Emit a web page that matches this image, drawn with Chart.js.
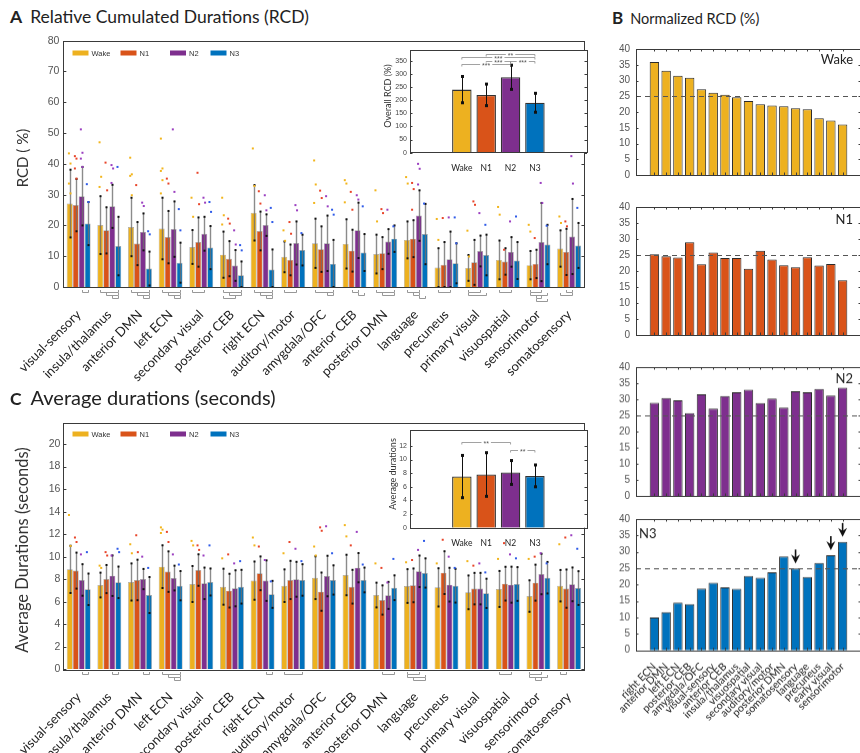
<!DOCTYPE html>
<html>
<head>
<meta charset="utf-8">
<title>Network state durations across sleep stages</title>
<script src="https://cdn.jsdelivr.net/npm/chart.js@4.4.1/dist/chart.umd.min.js"></script>
<style>
html,body{margin:0;padding:0;background:#fff;}
body{position:relative;width:860px;height:753px;overflow:hidden;font-family:Lato,"Liberation Sans",sans-serif;color:#222;}
canvas{position:absolute;}
.ttl{position:absolute;white-space:nowrap;color:#222;}
.ttl b{font-weight:700;}
.ylab{position:absolute;white-space:nowrap;transform:translate(-50%,-50%) rotate(-90deg);color:#333;}
</style>
</head>
<body>
<canvas id="cA"></canvas>
<canvas id="cC"></canvas>
<canvas id="cAin"></canvas>
<canvas id="cCin"></canvas>
<canvas id="cB0"></canvas>
<canvas id="cB1"></canvas>
<canvas id="cB2"></canvas>
<canvas id="cB3"></canvas>

<div class="ttl" style="left:10px;top:6px;font-size:17.5px;line-height:22px"><b style="margin-right:8px">A</b>Relative Cumulated Durations (RCD)</div>
<div class="ttl" style="left:612px;top:7px;font-size:14.5px;line-height:22px"><b style="font-size:17px;margin-right:7px">B</b>Normalized RCD (%)</div>
<div class="ttl" style="left:10px;top:385px;font-size:20px;line-height:24px"><b style="font-size:17.5px;margin-right:9px">C</b>Average durations (seconds)</div>
<div class="ylab" style="left:22px;top:158px;font-size:15px">RCD ( %)</div>
<div class="ylab" style="left:22px;top:550px;font-size:16.5px">Average Durations (seconds)</div>
<div class="ylab" style="left:387px;top:96px;font-size:9px">Overall RCD (%)</div>
<div class="ylab" style="left:392px;top:474px;font-size:9px">Average durations</div>

<script>
// ---------------- data ----------------
const regions = ['visual-sensory','insula/thalamus','anterior DMN','left ECN','secondary visual','posterior CEB','right ECN','auditory/motor','amygdala/OFC','anterior CEB','posterior DMN','language','precuneus','primary visual','visuospatial','sensorimotor','somatosensory'];
const states = ['Wake','N1','N2','N3'];
const stateColors = ['#EDB120','#D95319','#7E2F8E','#0072BD'];
const dotColors = ['#F2B51C','#E8452A','#9B3FC0','#2F5BE8'];

// relative cumulated durations (%), mean per region
const rcdWake = [27.1,20.1,19.5,19.0,13.0,10.5,24.1,9.8,14.2,14.0,10.7,15.3,6.3,6.2,8.8,7.1,12.5];
const rcdN1   = [26.6,18.4,14.1,16.2,14.6,9.2,18.2,8.8,12.3,11.8,11.0,15.7,7.2,8.0,8.3,7.5,11.4];
const rcdN2   = [29.5,26.2,17.9,18.8,17.3,7.0,20.1,14.3,14.2,18.4,14.8,23.2,9.0,11.7,11.4,14.6,16.4];
const rcdN3   = [20.6,13.3,6.0,7.9,12.8,3.8,5.7,12.0,7.5,11.2,15.7,17.2,7.7,10.4,8.6,13.8,13.5];
// standard deviations
const rcdErrWake = [11,9.4,9.5,10,5.5,7.5,9,5,8,8,6.3,6,6.3,4.2,6.3,4.6,5.9];
const rcdErrN1   = [8.5,7.5,7,8.5,8,5.7,6.3,5,7.4,6.8,5.2,6,7.4,7.3,4.3,4.6,7.5];
const rcdErrN2   = [9.5,7,6,9,5.5,5,3.5,7,9,9,4,8.2,9,5,4.8,12.7,12.2];
const rcdErrN3   = [7,9.5,5.5,6.5,7,4.5,6.5,5,7.8,6,4.3,9.8,6.5,6.6,6,6.4,7.3];
// individual subjects lying above the bars
const rcdDotsWake = [[43.4,40.1,33.6,30.4],[47,35.8,32.5],[42,36.6,36.1,29.8],[48.2,38.5,37.7,34.7,30.4],[29,22.8],[29,23.3,20.3],[45,32.8],[18.4,15],[41.1,33.3,27.3],[34.7,33.6,27.5],[31.4,21.3],[35.7,33.6],[22.1,15.3],[18.3,9.9],[26,23.5],[20.2,18],[22.9,20.8]];
const rcdDotsN1   = [[42.5,41.7,38.5,35.2],[40.4,31.4],[33.1],[35.2,33.6],[37.1,26.9],[22.2,20.6],[31.1,27.1],[21.1,17.3],[31.3,28.9],[30.9,25.1],[25.3,24],[33.8,31.8,25.1],[22.4],[27.8,26.7],[12.1],[15.9],[21.3,19.7]];
const rcdDotsN2   = [[51.2,43.6,41.7,39],[39.6,38.5,33.8],[27.4,26.3],[51.2,30.9],[29,27.4],[18.4,13.8],[29.8,24.9],[26.6,24.9],[29.5,26.2],[29.8,28.4],[25.1],[40,38.4,33.3],[22.6],[24],[21.3],[33.8,27.3],[42.5,33.6]];
const rcdDotsN3   = [[33.4,27.6],[39],[18.1,17.1],[25.3,18.4],[27.6,24.4],[13.6,11.9],[25.7,21.1],[17.5],[25.1,23.5],[26.2],[19.7],[27.1],[22.6,14.2],[20.2],[22.9],[19.9],[25.7]];
// pairwise stage differences per region (stage indices)
const rcdPairs = [[[2,3]],[[0,3],[1,3],[2,3]],[[0,3],[1,3],[2,3]],[[0,3],[1,3],[2,3]],[[0,2]],[[0,3],[1,3],[0,2]],[[0,3],[1,3],[2,3]],[[0,2]],[[0,3],[2,3]],[[1,2],[2,3]],[[0,3],[1,3]],[[0,2],[1,2],[2,3]],[[0,2]],[[0,2],[0,3]],[[0,2]],[[0,2],[0,3],[1,2],[1,3]],[[1,2],[0,2]]];

// overall RCD (%) summed over regions
const overallRcd    = [240,220,287,190];
const overallRcdErr = [50,41,46,36];
const rcdSigFrom  = [1,0,1,2,0];
const rcdSigTo    = [3,3,2,3,2];
const rcdSigLevel = ['**','***','***','***','***'];
const rcdSigAt    = [377,364,350,350,338];

// normalized RCD (%), regions ordered by N3 share
const normRegions = ['right ECN','anterior DMN','left ECN','posterior CEB','amygdala/OFC','visual-sensory','anterior CEB','insula/thalamus','visuospatial','secondary visual','auditory/motor','posterior DMN','somatosensory','language','precuneus','early visual','sensorimotor'];
const normWake = [35.9,33.1,31.5,30.9,27.2,26.1,25.5,24.7,23.5,22.5,22.1,21.8,21.2,20.9,18.0,17.3,16.0];
const normN1   = [25.2,24.6,24.2,29.0,22.1,25.8,24.1,24.1,20.7,26.3,23.6,21.8,21.2,24.3,21.7,22.2,17.1];
const normN2   = [28.9,30.4,29.7,25.7,31.6,27.1,31.0,32.2,33.0,28.8,30.2,27.4,32.5,32.2,33.2,31.2,33.6];
const normN3   = [10.0,11.6,14.5,14.1,18.8,20.6,19.2,18.7,22.6,22.1,23.8,28.6,24.9,22.3,26.6,29.0,33.0];
const chanceLevel = 25;
const n3Marked = ['somatosensory','early visual','sensorimotor'];

// average durations (s)
const durWake = [8.87,7.48,7.75,9.11,7.57,7.33,7.87,7.42,8.13,8.37,6.59,7.39,7.27,6.83,7.13,6.50,7.42];
const durN1   = [8.76,8.01,7.93,8.67,8.81,6.98,8.52,7.93,6.89,7.33,6.15,7.45,8.58,7.16,7.60,7.69,7.16];
const durN2   = [7.93,8.31,8.01,8.10,7.63,7.19,7.87,7.99,8.28,9.02,6.56,8.70,7.51,7.16,7.51,8.46,7.54];
const durN3   = [7.10,7.72,6.59,7.42,7.75,7.33,6.65,7.93,7.93,7.93,7.24,8.55,7.42,6.74,7.57,8.13,7.21];
const durErrWake = [2.1,1.1,1.65,1.9,1.6,1.6,1.7,1.45,1.9,1.8,1.1,1.5,1.7,1.5,1.6,1.4,1.4];
const durErrN1   = [1.6,1.25,1.8,1.8,1.4,1.5,1.5,1.7,1.7,1.5,1.3,1.5,1.9,1.4,1.5,1.6,1.7];
const durErrN2   = [1.4,1.8,0.9,1.1,1.4,1.6,1.8,1.55,1.8,1.3,1.2,1.4,1.5,1.4,1.6,1.8,1.5];
const durErrN3   = [1.4,1.4,1.6,1.3,1.2,1.5,1.2,1.4,1.3,1.1,1.1,1.3,1.5,1.3,1.5,1.4,1.5];
const durDotsWake = [[13.7,10.95],[9.2,9.0],[11.1,10.3],[12.6,12.4,12.1],[11.4,11.0],[9.85],[11.7,11.0],[10.3],[10.9,10.1],[12.8,11.8],[9.4],[9.5],[9.4],[9.6],[9.8],[9.8],[11.1]];
const durDotsN1   = [[11.7,11.3],[10.4,10.1],[11.9,10.4],[12.2,11.3],[11.0,10.6],[10.2],[10.9],[11.3],[12.6,12.3],[11.0],[9.0],[9.7],[11.5],[9.2],[11.2],[10.0],[11.7]];
const durDotsN2   = [[10.2],[10.1],[10.0],[10.2],[10.1],[9.4],[9.7],[10.7],[12.7],[12.2],[7.7],[10.6],[10.0],[9.4],[10.2],[10.3],[11.9]];
const durDotsN3   = [[10.4],[10.7,10.4],[9.0],[9.3],[11.0],[9.6],[7.8],[9.6],[10.3],[9.3],[9.8],[11.4],[9.0],[8.6],[9.85],[9.4],[10.7]];
const durPairs = [[[2,3]],[[2,3]],[[2,3]],[[0,3],[1,3],[2,3]],[],[],[[2,3]],[[0,3]],[],[],[[1,3]],[[0,2],[0,3],[1,3]],[],[],[[0,2]],[[0,2],[0,3],[1,2]],[[0,1]]];

const overallDur    = [7.5,7.8,8.1,7.6];
const overallDurErr = [3.1,3.2,1.75,1.6];
const durSigFrom  = [0,2];
const durSigTo    = [2,3];
const durSigLevel = ['**','**'];
const durSigAt    = [12.6,11.4];

// ---------------- helpers ----------------
Chart.defaults.font.family = 'Lato, "Liberation Sans", sans-serif';
Chart.defaults.animation = false;
Chart.defaults.plugins.legend.display = false;
Chart.defaults.plugins.tooltip.enabled = false;
const NUM_FONT = '"Liberation Sans", Arial, sans-serif';
const NO_GRID = {display: false, drawTicks: false};

// position a canvas and derive padding / axis sizes for a fixed plot box
function place(id, cv, plot) {
  const el = document.getElementById(id);
  el.style.left = cv[0] + 'px'; el.style.top = cv[1] + 'px';
  el.width = cv[2]; el.height = cv[3];
  el.style.width = cv[2] + 'px'; el.style.height = cv[3] + 'px';
  return {
    el,
    padding: {left: 0, top: plot[1] - cv[1], right: cv[0] + cv[2] - plot[2], bottom: 0},
    yWidth: plot[0] - cv[0],
    xHeight: cv[1] + cv[3] - plot[3]
  };
}

// box around the axes with inward ticks
function framePlugin(o) {
  return {id: 'frame', afterDraw(chart) {
    const {ctx, chartArea: a} = chart;
    const L = a.left, R = a.right;
    const len = o.tick || 3;
    ctx.save();
    ctx.strokeStyle = o.color || '#3a3a3a';
    ctx.lineWidth = o.lw || 1;
    ctx.strokeRect(Math.round(L) + 0.5, Math.round(a.top) + 0.5, Math.round(R - L), Math.round(a.bottom - a.top));
    ctx.beginPath();
    const ys = chart.scales.y;
    ys.ticks.forEach(t => {
      const p = Math.round(ys.getPixelForValue(t.value)) + 0.5;
      ctx.moveTo(L, p); ctx.lineTo(L + len, p);
      ctx.moveTo(R, p); ctx.lineTo(R - len, p);
    });
    (o.xTicks || []).forEach(v => {
      const p = Math.round(chart.scales.x.getPixelForValue(v)) + 0.5;
      ctx.moveTo(p, a.top); ctx.lineTo(p, a.top + len);
      ctx.moveTo(p, a.bottom); ctx.lineTo(p, a.bottom - len);
    });
    ctx.stroke();
    ctx.restore();
  }};
}

// small grey brackets under the axis linking differing stages
function pairBrackets(pairs) {
  return {id: 'pairBrackets', afterDraw(chart) {
    const ctx = chart.ctx, base = chart.chartArea.bottom;
    const metas = states.map((_, k) => chart.getDatasetMeta(k));
    ctx.save();
    ctx.strokeStyle = '#8c8c8c'; ctx.lineWidth = 0.9;
    pairs.forEach((list, i) => {
      list.forEach(([a, b], j) => {
        const x1 = Math.round(metas[a].data[i].x) + 0.5, x2 = Math.round(metas[b].data[i].x) + 0.5;
        const y = Math.round(base + 5 + j * 3) + 0.5;
        ctx.beginPath();
        ctx.moveTo(x1, y - 2.5); ctx.lineTo(x1, y); ctx.lineTo(x2, y); ctx.lineTo(x2, y - 2.5);
        ctx.stroke();
      });
    });
    ctx.restore();
  }};
}

// subject values drawn as small squares over each bar
function dotsPlugin(dots) {
  return {id: 'dots', afterDatasetsDraw(chart) {
    const ctx = chart.ctx, ys = chart.scales.y;
    ctx.save();
    chart.data.datasets.forEach((ds, di) => {
      const meta = chart.getDatasetMeta(di);
      ctx.fillStyle = dotColors[di];
      meta.data.forEach((bar, i) => {
        dots[di][i].forEach((v, j) => {
          const x = bar.x + (j % 2 ? 1 : -1) * 0.8;
          ctx.fillRect(x - 1, ys.getPixelForValue(v) - 1, 2, 2);
        });
      });
    });
    ctx.restore();
  }};
}

// mean +/- SD whiskers
function errorBarPlugin(errs, style) {
  return {id: 'errorBars', afterDatasetsDraw(chart) {
    const ctx = chart.ctx, ys = chart.scales.y;
    ctx.save();
    chart.data.datasets.forEach((ds, di) => {
      const meta = chart.getDatasetMeta(di);
      meta.data.forEach((bar, i) => {
        const raw = ds.data[i];
        const v = typeof raw === 'object' ? raw.y : raw;
        const e = errs[di][i];
        const x = Math.round(bar.x) + 0.5;
        const yt = ys.getPixelForValue(v + e), yb = ys.getPixelForValue(Math.max(0, v - e));
        if (style === 'inset') {
          ctx.strokeStyle = '#111'; ctx.lineWidth = 1;
          ctx.beginPath(); ctx.moveTo(x, yt); ctx.lineTo(x, yb); ctx.stroke();
          ctx.fillStyle = '#111';
          ctx.fillRect(x - 1.5, yt - 1.5, 3, 3); ctx.fillRect(x - 1.5, yb - 1.5, 3, 3);
        } else {
          ctx.strokeStyle = 'rgba(110,110,110,0.8)'; ctx.lineWidth = 1.4;
          ctx.beginPath(); ctx.moveTo(x, yt); ctx.lineTo(x, yb); ctx.stroke();
          ctx.fillStyle = '#111';
          ctx.fillRect(x - 1, yt - 1, 2, 2); ctx.fillRect(x - 1, yb - 1, 2, 2);
        }
      });
    });
    ctx.restore();
  }};
}

// in-plot legend of the four stages
function stateLegend(dy) {
  const xs = [72.5, 120.5, 170, 210.5];
  return {id: 'stateLegend', afterDraw(chart) {
    const ctx = chart.ctx, y = chart.chartArea.top + dy;
    ctx.save();
    ctx.font = '7.5px ' + NUM_FONT;
    ctx.textBaseline = 'middle';
    states.forEach((s, k) => {
      ctx.fillStyle = stateColors[k];
      ctx.fillRect(xs[k], y - 2.5, 16, 5);
      ctx.fillStyle = '#333';
      ctx.fillText(s, xs[k] + 19, y + 0.5);
    });
    ctx.restore();
  }};
}

// white plotting area for the insets
const whitePlot = {id: 'whitePlot', beforeDraw(chart) {
  const {ctx, chartArea: a} = chart;
  ctx.save(); ctx.fillStyle = '#fff';
  ctx.fillRect(a.left, a.top, a.right - a.left, a.bottom - a.top);
  ctx.restore();
}};

// significance brackets for the insets
function sigPlugin(from, to, level, at) {
  return {id: 'sig', afterDatasetsDraw(chart) {
    const ctx = chart.ctx, xs = chart.scales.x, ys = chart.scales.y;
    ctx.save();
    ctx.font = '7px ' + NUM_FONT;
    ctx.textAlign = 'center'; ctx.textBaseline = 'middle';
    from.forEach((f, i) => {
      const x1 = xs.getPixelForValue(f + 1), x2 = xs.getPixelForValue(to[i] + 1);
      const y = Math.round(ys.getPixelForValue(at[i])) + 0.5;
      ctx.strokeStyle = '#8a8a8a'; ctx.lineWidth = 0.8;
      ctx.beginPath();
      ctx.moveTo(x1, y + 2); ctx.lineTo(x1, y); ctx.lineTo(x2, y); ctx.lineTo(x2, y + 2);
      ctx.stroke();
      const mx = (x1 + x2) / 2, w = ctx.measureText(level[i]).width + 4;
      ctx.fillStyle = '#fff'; ctx.fillRect(mx - w / 2, y - 2, w, 4);
      ctx.fillStyle = '#555'; ctx.fillText(level[i], mx, y + 1.5);
    });
    ctx.restore();
  }};
}

// dashed chance level line
function refLine(value) {
  return {id: 'refLine', afterDatasetsDraw(chart) {
    const {ctx, chartArea: a} = chart;
    const y = Math.round(chart.scales.y.getPixelForValue(value)) + 0.5;
    ctx.save();
    ctx.strokeStyle = '#555'; ctx.lineWidth = 1; ctx.setLineDash([5, 4]);
    ctx.beginPath(); ctx.moveTo(a.left, y); ctx.lineTo(a.right, y); ctx.stroke();
    ctx.restore();
  }};
}

// stage name inside each panel-B axis (canvas x coordinates)
function stageTag(text, side, dy) {
  return {id: 'stageTag', afterDraw(chart) {
    const {ctx, chartArea: a} = chart;
    ctx.save();
    ctx.font = '13px Lato, sans-serif'; ctx.fillStyle = '#222';
    ctx.textBaseline = 'middle';
    if (side === 'right') { ctx.textAlign = 'right'; ctx.fillText(text, 253, a.top + dy); }
    else { ctx.textAlign = 'left'; ctx.fillText(text, 39, a.top + dy); }
    ctx.restore();
  }};
}

// downward arrows over highlighted regions
function arrowPlugin(names) {
  return {id: 'arrows', afterDatasetsDraw(chart) {
    const ctx = chart.ctx, ys = chart.scales.y, meta = chart.getDatasetMeta(0);
    const ds = chart.data.datasets[0];
    ctx.save(); ctx.fillStyle = '#111'; ctx.strokeStyle = '#111'; ctx.lineWidth = 1.6;
    names.forEach(n => {
      const i = normRegions.indexOf(n);
      const x = meta.data[i].x;
      const tip = ys.getPixelForValue(ds.data[i].y) - 5;
      ctx.beginPath(); ctx.moveTo(x, tip - 14); ctx.lineTo(x, tip - 5); ctx.stroke();
      ctx.beginPath();
      ctx.moveTo(x, tip); ctx.lineTo(x - 4.5, tip - 9); ctx.lineTo(x, tip - 6); ctx.lineTo(x + 4.5, tip - 9);
      ctx.closePath(); ctx.fill();
    });
    ctx.restore();
  }};
}

// ---------------- panel A: RCD per region ----------------
const rcdSeries = [rcdWake, rcdN1, rcdN2, rcdN3];
const rcdErrs = [rcdErrWake, rcdErrN1, rcdErrN2, rcdErrN3];
const rcdDots = [rcdDotsWake, rcdDotsN1, rcdDotsN2, rcdDotsN3];
const LA = place('cA', [0, 28, 600, 372], [54, 40.7, 597, 287]);
new Chart(LA.el, {
  type: 'bar',
  data: {labels: regions, datasets: states.map((s, k) => ({
    label: s, data: rcdSeries[k], backgroundColor: stateColors[k],
    borderColor: 'rgba(0,0,0,0.35)', borderWidth: 0.7,
    categoryPercentage: 0.78, barPercentage: 1.0
  }))},
  options: {
    responsive: false, animation: false,
    layout: {padding: LA.padding},
    scales: {
      x: {grid: NO_GRID, border: {display: false},
          ticks: {autoSkip: false, minRotation: 45, maxRotation: 45, padding: 20, color: '#222', font: {size: 13}},
          afterFit: s => { s.height = LA.xHeight; }},
      y: {min: 0, max: 80, grid: NO_GRID, border: {display: false},
          ticks: {stepSize: 10, color: '#555', padding: 4, font: {size: 10.5, family: NUM_FONT}},
          afterFit: s => { s.width = LA.yWidth; }}
    }
  },
  plugins: [errorBarPlugin(rcdErrs, 'main'), dotsPlugin(rcdDots), framePlugin({tick: 3}), stateLegend(12.3), pairBrackets(rcdPairs)]
});

// inset: overall RCD
const LAi = place('cAin', [372, 43, 218, 132], [410, 45, 587, 152.7]);
new Chart(LAi.el, {
  type: 'bar',
  data: {datasets: [{data: overallRcd.map((v, i) => ({x: i + 1, y: v})), backgroundColor: stateColors,
    borderColor: '#333', borderWidth: 1.3, barPercentage: 0.8, categoryPercentage: 1}]},
  options: {
    responsive: false, animation: false, layout: {padding: LAi.padding},
    scales: {
      x: {type: 'linear', min: -0.22, max: 5.23, grid: NO_GRID, border: {display: false},
          afterBuildTicks: s => { s.ticks = states.map((_, i) => ({value: i + 1})); },
          ticks: {callback: (v, i) => states[i], color: '#222', font: {size: 8.5}, padding: 10, maxRotation: 0},
          afterFit: s => { s.height = LAi.xHeight; }},
      y: {min: 0, max: 390, grid: NO_GRID, border: {display: false},
          afterBuildTicks: s => { s.ticks = s.ticks.filter(t => t.value % 50 === 0); },
          ticks: {stepSize: 50, color: '#444', font: {size: 7, family: NUM_FONT}, padding: 3},
          afterFit: s => { s.width = LAi.yWidth; }}
    }
  },
  plugins: [whitePlot, errorBarPlugin([overallRcdErr], 'inset'), sigPlugin(rcdSigFrom, rcdSigTo, rcdSigLevel, rcdSigAt), framePlugin({tick: 2.5})]
});

// ---------------- panel B: normalized RCD ----------------
const normSeries = [normWake, normN1, normN2, normN3];
const bPlots = [[42.7, 182.3], [201, 342.3], [361, 502.7], [513.3, 650.7]];
const bTagSide = ['right', 'right', 'right', 'left'];
const bTagDy = [10.5, 13, 11.5, 15];
normSeries.forEach((vals, k) => {
  const [pt, pb] = bPlots[k];
  const last = k === 3;
  const L = place('cB' + k, [600, pt - 6, 262, (last ? 753 : pb + 5) - (pt - 6)], [636, pt, 861, pb]);
  const plugins = [refLine(chanceLevel), framePlugin({tick: 2.5, xTicks: normRegions.map((_, i) => i + 1)}), stageTag(states[k], bTagSide[k], bTagDy[k])];
  if (last) plugins.push(arrowPlugin(n3Marked));
  new Chart(L.el, {
    type: 'bar',
    data: {datasets: [{data: vals.map((v, i) => ({x: i + 1, y: v})), backgroundColor: stateColors[k],
      borderColor: '#2b2b2b', borderWidth: 1, barPercentage: 0.8, categoryPercentage: 1}]},
    options: {
      responsive: false, animation: false, layout: {padding: L.padding},
      scales: {
        x: {type: 'linear', min: 0, max: 18, grid: NO_GRID, border: {display: false},
            afterBuildTicks: s => { s.ticks = normRegions.map((_, i) => ({value: i + 1})); },
            ticks: {display: last, autoSkip: false, minRotation: 45, maxRotation: 45, padding: 10,
                    color: '#222', font: {size: 10.5}, callback: (v, i) => normRegions[i]},
            afterFit: s => { s.height = L.xHeight; }},
        y: {min: 0, max: 40, grid: NO_GRID, border: {display: false},
            ticks: {stepSize: 5, color: '#555', padding: 6, font: {size: 10, family: NUM_FONT}},
            afterFit: s => { s.width = L.yWidth; }}
      }
    },
    plugins
  });
});

// ---------------- panel C: average durations ----------------
const durSeries = [durWake, durN1, durN2, durN3];
const durErrs = [durErrWake, durErrN1, durErrN2, durErrN3];
const durDots = [durDotsWake, durDotsN1, durDotsN2, durDotsN3];
const LC = place('cC', [0, 412, 600, 341], [56, 422.7, 597, 669.2]);
new Chart(LC.el, {
  type: 'bar',
  data: {labels: regions, datasets: states.map((s, k) => ({
    label: s, data: durSeries[k], backgroundColor: stateColors[k],
    borderColor: 'rgba(0,0,0,0.35)', borderWidth: 0.7,
    categoryPercentage: 0.78, barPercentage: 1.0
  }))},
  options: {
    responsive: false, animation: false, layout: {padding: LC.padding},
    scales: {
      x: {grid: NO_GRID, border: {display: false},
          ticks: {autoSkip: false, minRotation: 45, maxRotation: 45, padding: 20, color: '#222', font: {size: 13}},
          afterFit: s => { s.height = LC.xHeight; }},
      y: {min: 0, max: 21.9, grid: NO_GRID, border: {display: false},
          afterBuildTicks: s => { s.ticks = s.ticks.filter(t => Math.abs(t.value / 2 - Math.round(t.value / 2)) < 1e-6); },
          ticks: {stepSize: 2, color: '#555', padding: 3, font: {size: 10.5, family: NUM_FONT}},
          afterFit: s => { s.width = LC.yWidth; }}
    }
  },
  plugins: [errorBarPlugin(durErrs, 'main'), dotsPlugin(durDots), framePlugin({tick: 3}), stateLegend(11.3), pairBrackets(durPairs)]
});

// inset: overall average durations
const LCi = place('cCin', [372, 423, 218, 128], [410, 425, 587, 527.7]);
new Chart(LCi.el, {
  type: 'bar',
  data: {datasets: [{data: overallDur.map((v, i) => ({x: i + 1, y: v})), backgroundColor: stateColors,
    borderColor: '#333', borderWidth: 1.3, barPercentage: 0.8, categoryPercentage: 1}]},
  options: {
    responsive: false, animation: false, layout: {padding: LCi.padding},
    scales: {
      x: {type: 'linear', min: -0.22, max: 5.23, grid: NO_GRID, border: {display: false},
          afterBuildTicks: s => { s.ticks = states.map((_, i) => ({value: i + 1})); },
          ticks: {callback: (v, i) => states[i], color: '#222', font: {size: 8.5}, padding: 10, maxRotation: 0},
          afterFit: s => { s.height = LCi.xHeight; }},
      y: {min: 0, max: 14.3, grid: NO_GRID, border: {display: false},
          afterBuildTicks: s => { s.ticks = s.ticks.filter(t => Math.abs(t.value / 2 - Math.round(t.value / 2)) < 1e-6); },
          ticks: {stepSize: 2, color: '#444', font: {size: 7, family: NUM_FONT}, padding: 3},
          afterFit: s => { s.width = LCi.yWidth; }}
    }
  },
  plugins: [whitePlot, errorBarPlugin([overallDurErr], 'inset'), sigPlugin(durSigFrom, durSigTo, durSigLevel, durSigAt), framePlugin({tick: 2.5})]
});
</script>
</body>
</html>
